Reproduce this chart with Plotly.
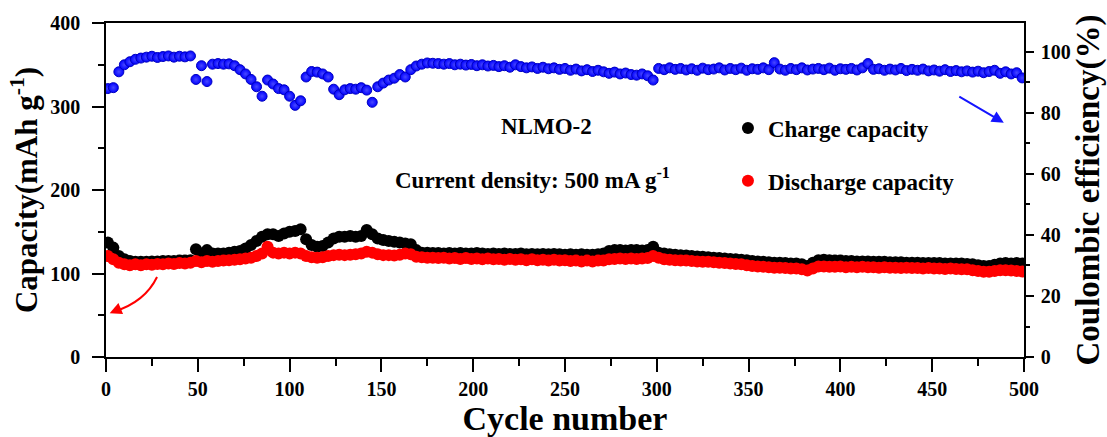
import plotly.graph_objects as go

# ---- data (one point every 3 cycles) ----
cycles = list(range(1, 500, 3))

coulombic_eff = [
    88.0, 88.3, 93.5, 95.8, 96.8, 97.6, 98.0, 98.3, 98.6, 98.2,
    98.5, 98.7, 98.3, 98.6, 98.4, 98.7, 91.0, 95.5, 90.3, 96.0,
    96.2, 96.0, 96.1, 95.5, 94.2, 92.8, 91.0, 88.6, 85.5, 90.8,
    89.5, 88.0, 87.6, 85.5, 82.5, 84.0, 91.8, 93.6, 93.4, 92.8,
    91.8, 87.8, 86.0, 87.6, 88.0, 87.8, 88.3, 87.5, 83.5, 88.6,
    89.8, 90.8, 91.4, 92.6, 91.8, 94.2, 95.4, 96.0, 96.4, 96.3,
    96.2, 96.0, 96.2, 95.8, 96.0, 95.7, 95.9, 95.5, 95.8, 95.4,
    95.6, 95.2, 95.5, 95.0, 95.8, 95.2, 94.8, 95.1, 94.6, 95.0,
    94.5, 94.8, 94.3, 94.6, 94.0, 94.4, 93.8, 94.2, 93.6, 94.0,
    93.5, 93.0, 93.4, 92.8, 93.1, 92.6, 92.4, 92.8, 92.2, 90.8,
    94.6, 94.2, 94.8, 94.3, 94.6, 94.1, 94.5, 94.0, 94.7, 94.2,
    94.4, 94.8, 94.1, 94.6, 94.2, 94.7, 94.0, 94.5, 94.3, 94.8,
    94.2, 96.5, 94.4, 94.0, 94.6, 94.2, 94.8, 94.1, 94.4, 94.6,
    94.2, 94.7, 94.0, 94.5, 94.3, 94.6, 94.1, 94.8, 96.2, 94.3,
    94.5, 94.0, 94.4, 94.1, 94.6, 93.9, 94.3, 94.0, 94.4, 93.8,
    94.1, 93.7, 94.2, 93.6, 93.9, 93.5, 93.8, 93.4, 93.7, 93.2,
    93.6, 94.0, 93.0, 93.5, 92.8, 93.2, 91.5,
]

charge_capacity = [
    137, 131, 121, 117, 115, 114, 114, 114, 114.5, 114.5,
    115, 115, 115, 115.5, 115.5, 116, 129, 124, 128, 124,
    124, 124, 125, 126, 127, 130, 134, 139, 144, 147,
    147, 145, 148, 150, 151, 153, 141, 134, 132, 133,
    137, 142, 144, 144, 145, 144, 145, 152, 147, 142,
    140, 139, 138, 137, 136, 135, 128, 125, 125, 124.5,
    124.5, 124, 124.5, 124, 124.5, 124, 124, 124.5, 124, 123.5,
    124, 123.5, 124, 123.5, 123.5, 124, 123, 123.5, 123, 123.5,
    123, 123.5, 123, 122.5, 123, 122.5, 123, 122.5, 122.5, 123,
    124, 127, 128, 128, 127.5, 128, 128, 127.5, 128, 132,
    125, 124, 123, 122.5, 122, 121.5, 121, 120.5, 120, 119.5,
    119, 118.5, 118, 117.5, 117, 116.5, 116, 115, 114.5, 114,
    113.5, 113, 113, 112.5, 112, 112, 111, 109, 113, 116,
    116.5, 116, 115.5, 115.5, 115, 115, 114.5, 114.5, 114.5, 114,
    114, 114, 113.5, 113.5, 113.5, 113, 113, 113, 112.5, 112.5,
    112.5, 112.5, 112, 112, 112, 112, 111.5, 111, 110, 109,
    109, 110.5, 112, 112.5, 112, 112.5, 112,
]

discharge_capacity = [
    121, 117, 113, 111, 110, 111, 110, 111, 110.5, 111.5,
    111, 112, 111.5, 112.5, 112, 113, 115, 113.5, 115, 114,
    115, 115.5, 116, 116.5, 117, 118, 119, 121, 124, 132,
    125, 124, 125, 124, 125, 124, 121, 119.5, 119, 119.5,
    121, 122, 122.5, 122, 122.5, 123, 124, 126, 125, 123,
    122, 122, 121.5, 122.5, 124, 123, 120, 119.5, 119, 119,
    118.5, 119, 118, 118.5, 117.5, 118.5, 117.5, 118, 117, 118,
    117, 117.5, 116.5, 117.5, 116.5, 117, 116, 117, 116, 116.5,
    115.5, 116.5, 115.5, 116, 115, 115.5, 114.5, 115.5, 114.5, 115.5,
    115.5, 117, 117.5, 118, 117.5, 118, 117.5, 118, 118.5, 121,
    119, 117, 116.5, 116, 115.5, 115.5, 115, 114.5, 114, 114,
    113.5, 113, 112.5, 112, 111.5, 111, 110, 109, 108.5, 108,
    107.5, 107, 107, 106.5, 106, 106, 105, 103.5, 106, 108.5,
    108.5, 108, 108, 108.5, 107.5, 108, 107.5, 108, 107.5, 107.5,
    107, 107.5, 107, 107, 106.5, 107, 106.5, 106.5, 106, 106.5,
    106, 106, 105.5, 106, 105.5, 105, 105, 104, 103, 102,
    102, 103, 104, 104, 103.5, 103, 102.5,
]

x_ticks = [0, 50, 100, 150, 200, 250, 300, 350, 400, 450, 500]
cap_ticks = [0, 100, 200, 300, 400]
ce_ticks = [0, 20, 40, 60, 80, 100]

FONT = "Liberation Serif, Times New Roman, serif"


def tfont(size):
    return dict(family=FONT, size=size, color="black", weight="bold")


fig = go.Figure()

fig.add_trace(go.Scatter(
    x=cycles, y=coulombic_eff, mode="markers", yaxis="y2",
    name="Coulombic efficiency", showlegend=False,
    marker=dict(size=10, color="#0000ff",
                line=dict(color="#0000c0", width=1),
                gradient=dict(type="radial", color="#4848ff")),
))
fig.add_trace(go.Scatter(
    x=cycles, y=charge_capacity, mode="markers",
    name="Charge capacity", legendgroup="c",
    marker=dict(size=12, color="#000000"),
))
fig.add_trace(go.Scatter(
    x=cycles, y=discharge_capacity, mode="markers",
    name="Discharge capacity", legendgroup="d",
    marker=dict(size=12, color="#ff0000"),
))

base = dict(
    showline=True, linecolor="black", linewidth=1.5,
    ticks="outside", tickwidth=1.5, tickcolor="black",
    showgrid=False, zeroline=False, automargin=False,
    tickfont=tfont(20),
)

fig.update_layout(
    width=1107, height=437,
    margin=dict(l=106, r=83, t=23, b=80),
    paper_bgcolor="white", plot_bgcolor="white",
    font=dict(family=FONT, color="black"),
    xaxis=dict(
        **base, range=[0, 500], tickvals=x_ticks, mirror=True,
        ticklen=13,
        minor=dict(dtick=25, ticklen=7, tickwidth=1.5, tickcolor="black", ticks="outside"),
        title=dict(text="Cycle number", standoff=0, font=tfont(34)),
    ),
    yaxis=dict(
        **base, range=[0, 400], tickvals=cap_ticks,
        ticklen=12, ticklabelstandoff=8,
        minor=dict(dtick=50, ticklen=6, tickwidth=1.5, tickcolor="black", ticks="outside"),
        title=dict(text="Capacity(mAh g<sup>-1</sup>)", standoff=3, font=tfont(31)),
    ),
    yaxis2=dict(
        **base, range=[0, 109.5], tickvals=ce_ticks,
        overlaying="y", side="right",
        ticklen=8, ticklabelstandoff=3,
        minor=dict(dtick=10, ticklen=4, tickwidth=1.5, tickcolor="black", ticks="outside"),
        title=dict(text="Coulombic efficiency(%)", standoff=7, font=tfont(33)),
    ),
    legend=dict(
        x=0.6775, y=0.75, xanchor="left", yanchor="top",
        bgcolor="rgba(0,0,0,0)", tracegroupgap=20,
        font=tfont(23),
    ),
)

fig.add_annotation(x=0.48, y=0.735, xref="paper", yref="paper", text="NLMO-2",
                   showarrow=False, font=tfont(23))
fig.add_annotation(x=0.465, y=0.535, xref="paper", yref="paper",
                   text="Current density: 500 mA g<sup>-1</sup>",
                   showarrow=False, font=tfont(23))

# red curved arrow toward left axis
fig.add_shape(type="path", xref="x", yref="y",
              path="M 27.8,95.8 Q 21.2,65.9 4.5,54.5",
              line=dict(color="#ff0000", width=2))
fig.add_annotation(x=2.0, y=52.5, xref="x", yref="y", ax=12, ay=-5,
                   showarrow=True, arrowhead=2, arrowsize=1.2, arrowwidth=2,
                   arrowcolor="#ff0000", text="")
# blue arrow toward right axis
fig.add_annotation(x=489, y=76.8, xref="x", yref="y2", ax=-46, ay=-27,
                   showarrow=True, arrowhead=2, arrowsize=1.2, arrowwidth=2,
                   arrowcolor="#1414ff", text="")

fig.write_html("out.html", config={"displayModeBar": False},
               post_script="document.body.style.margin='0px';")
